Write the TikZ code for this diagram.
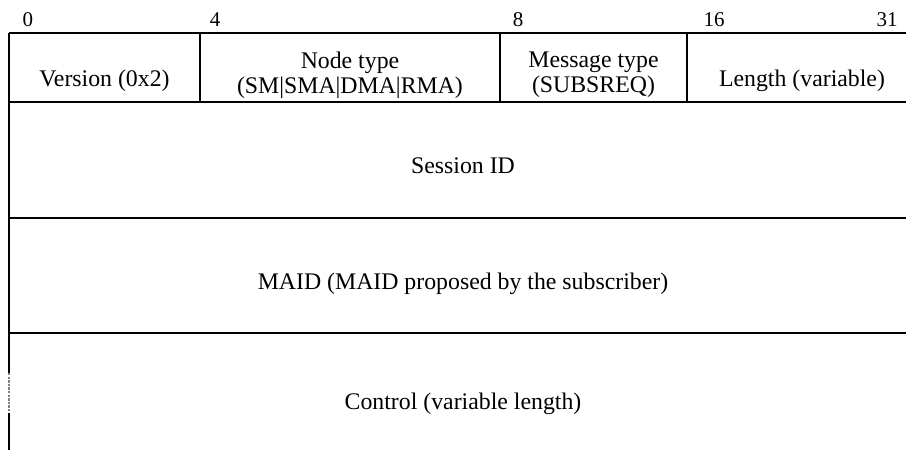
\documentclass[tikz,border=0pt]{standalone}
\usepackage{fontspec}
\setmainfont{Liberation Serif}
\usetikzlibrary{positioning}
\tikzset{
  field/.style={font=\fontsize{23.8}{25}\selectfont,align=center,inner sep=0pt},
  bitno/.style={font=\fontsize{21}{22}\selectfont,inner sep=0pt,anchor=base},
  rule/.style={line width=1.7pt},
  gap/.style={line width=1.4pt,gray,dash pattern=on 2.4pt off 1.2pt}
}

\begin{document}
\begin{tikzpicture}[x=1pt,y=-1pt]
\useasboundingbox (0,0) rectangle (906,450);
% bit positions
\node[bitno] (b0) at (28,26) {0};
\node[bitno] (b4) at (215,26) {4};
\node[bitno] (b8) at (518,26) {8};
\node[bitno] (b16) at (714,26) {16};
\node[bitno] (b31) at (887,26) {31};
% frame
\draw[rule] (9,33) -- (906,33);
\draw[rule] (9,102) -- (906,102);
\draw[rule] (9,218) -- (906,218);
\draw[rule] (9,333) -- (906,333);
\draw[rule] (200,33) -- (200,102);
\draw[rule] (500,33) -- (500,102);
\draw[rule] (687,33) -- (687,102);
\draw[rule] (9,33) -- (9,373);
\draw[gap] (9,373) -- (9,413);
\draw[rule] (9,413) -- (9,450);
% fields
\node[field,anchor=base] (version) at (104.5,86) {Version (0x2)};
\node[field] (nodetype) at (350,75) {Node type\\(SM|SMA|DMA|RMA)};
\node[field] (msgtype) at (593.5,75) {Message type\\(SUBSREQ)};
\node[field,anchor=base] (length) at (802,86) {Length (variable)};
\node[field,anchor=base] (session) at (463,173) {Session ID};
\node[field,anchor=base] (maid) at (463,289) {MAID (MAID proposed by the subscriber)};
\node[field,anchor=base] (control) at (463,409) {Control (variable length)};
\end{tikzpicture}
\end{document}
